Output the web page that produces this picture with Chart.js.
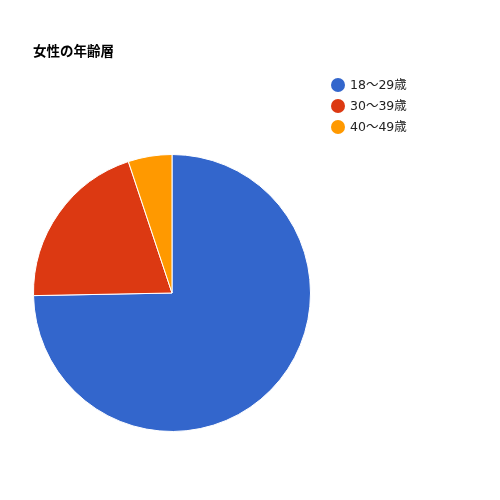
<!DOCTYPE html>
<html>
<head>
<meta charset="utf-8">
<script src="https://cdn.jsdelivr.net/npm/chart.js@4"></script>
<style>
	body { margin: 0; background: #fff; }
	.wrap { position: relative; width: 500px; height: 500px; font-family: "DejaVu Sans", "Noto Sans CJK JP", sans-serif; }
	.title { position: absolute; left: 33px; top: 40px; font-size: 13.5px; font-weight: bold; color: #000; }
	.legend { position: absolute; left: 331px; top: 74px; font-size: 12.5px; color: #222; }
	.legend div { height: 21px; line-height: 16px; display: flex; align-items: center; }
	.legend span.dot { display: inline-block; width: 14px; height: 14px; border-radius: 50%; margin-right: 5px; }
</style>
</head>
<body>
<div class="wrap">
	<canvas id="chart" width="500" height="500"></canvas>
	<div class="title" id="title"></div>
	<div class="legend" id="legend"></div>
</div>
<script>
const chart_title = '女性の年齢層';
const age_labels = ['18〜29歳', '30〜39歳', '40〜49歳'];
const age_values = [74.7, 20.2, 5.1];
const slice_colors = ['#3366cc', '#dc3912', '#ff9900'];

document.getElementById('title').textContent = chart_title;

// legend built by hand so the pie keeps its place on the left
const legend = document.getElementById('legend');
age_labels.forEach((label, i) => {
	const row = document.createElement('div');
	const dot = document.createElement('span');
	dot.className = 'dot';
	dot.style.background = slice_colors[i];
	row.append(dot, document.createTextNode(label));
	legend.append(row);
});

new Chart(document.getElementById('chart'), {
	type: 'pie',
	data: {
		labels: age_labels,
		datasets: [{
			data: age_values,
			backgroundColor: slice_colors,
			borderColor: '#ffffff',
			borderWidth: 1
		}]
	},
	options: {
		responsive: false,
		animation: false,
		layout: { padding: { left: 33, right: 189, top: 154, bottom: 68 } },
		plugins: {
			legend: { display: false },
			title: { display: false },
			tooltip: { enabled: false }
		}
	}
});
</script>
</body>
</html>
